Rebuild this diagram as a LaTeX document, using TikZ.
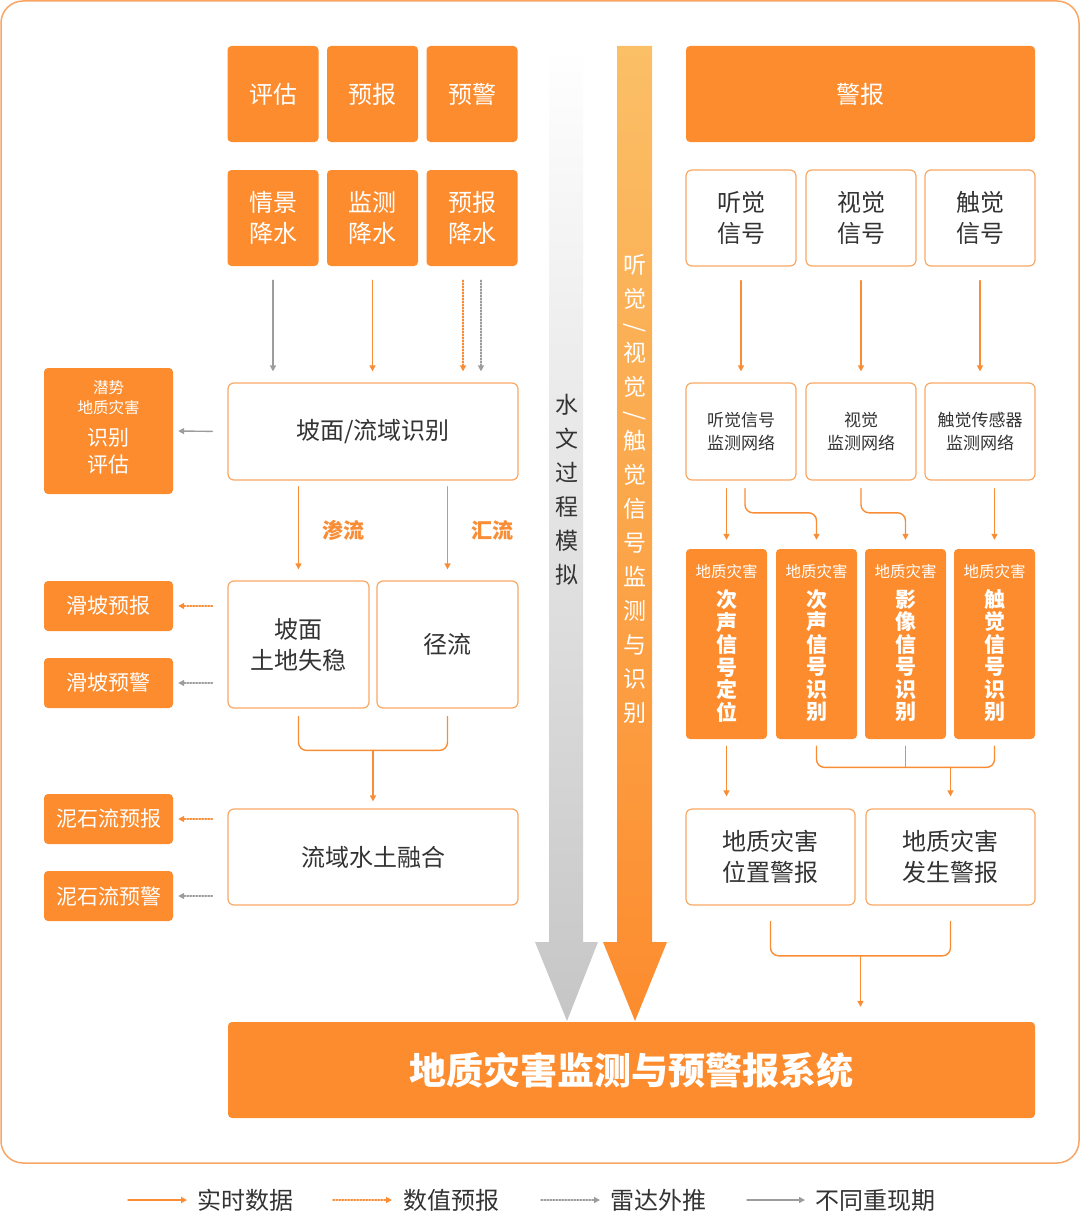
\documentclass[tikz,border=0pt]{standalone}
\usepackage{fontspec}
\setmainfont{Noto Sans CJK SC}
\usetikzlibrary{arrows.meta}
\definecolor{orfill}{HTML}{FC8C2E}
\definecolor{ortop}{HTML}{FBBF66}
\definecolor{orline}{HTML}{F9A864}
\definecolor{frameor}{HTML}{F8A565}
\definecolor{arr}{HTML}{F98D36}
\definecolor{gry}{HTML}{9C9C9C}
\definecolor{txt}{HTML}{333333}
\newcommand\fsz[2]{\fontsize{#1}{#2}\selectfont}
\newcommand\vslash{\rotatebox[origin=c]{-90}{/}}
\tikzset{
	obox/.style={fill=orfill,rounded corners=4,inner sep=0,text=white,align=center},
	wbox/.style={draw=orline,line width=1.2,fill=white,rounded corners=6,inner sep=0,text=txt,align=center},
	topbox/.style={obox,minimum width=91,minimum height=96,font=\fsz{24}{31}},
	sidebox/.style={obox,minimum width=129,minimum height=50,font=\fsz{21}{25}},
	vbox/.style={obox,minimum width=81,minimum height=190},
	rtl/.style={draw=arr,line width=1.4},
	rtline/.style={rtl,-{Triangle[length=6pt,width=6pt]}},
	rpline/.style={draw=gry,line width=1.4,-{Triangle[length=6pt,width=6pt]}},
	fcline/.style={draw=arr,line width=1.4,dash pattern=on 1.4pt off 1.6pt,-{Triangle[length=6pt,width=6pt]}},
	rdline/.style={draw=gry,line width=1.4,dash pattern=on 1.4pt off 1.6pt,-{Triangle[length=6pt,width=6pt]}},
}
\begin{document}
\begin{tikzpicture}[x=1pt,y=-1pt,line join=round,line cap=round]
\useasboundingbox (0,0) rectangle (1080,1212);
\draw[frameor,line width=1.5,rounded corners=22] (1,1) rectangle (1079,1163);

% wide arrows in the middle
\shade[top color=white,bottom color=gray!45] (549,46) -- (583,46) -- (583,942) -- (598,942)
	-- (567,1021) -- (535,942) -- (549,942) -- cycle;
\shade[top color=ortop,bottom color=orfill] (617,46) -- (652,46) -- (652,942)
	-- (667,942) -- (635,1021) -- (603,942) -- (617,942) -- cycle;
\node[align=center,text=txt,font=\fsz{23}{34}] (hydro) at (567,490) {水\\文\\过\\程\\模\\拟};
\node[align=center,text=white,font=\fsz{23}{34}] (sense) at (635,489)
	{听\\觉\\[-7pt]\vslash\\[-7pt]视\\觉\\[-7pt]\vslash\\[-7pt]触\\觉\\信\\号\\监\\测\\与\\识\\别};

% left part
\node[topbox] (pg) at (273,94) {评估};
\node[topbox] (yb) at (372.5,94) {预报};
\node[topbox] (yj) at (472,94) {预警};
\node[topbox] (qjjs) at (273,218) {情景\\降水};
\node[topbox] (jcjs) at (372.5,218) {监测\\降水};
\node[topbox] (ybjs) at (472,218) {预报\\降水};
\node[wbox,minimum width=290,minimum height=97,font=\fsz{24}{31}] (pmly) at (373,431.5) {坡面/流域识别};
\node[obox,minimum width=129,minimum height=126] (qsdz) at (108.5,431) {};
\node[text=white,align=center,font=\fsz{15.5}{20}] (qsdzt) at ([yshift=33]qsdz.center) {潜势\\地质灾害};
\node[text=white,align=center,font=\fsz{21}{27}] (qsdzb) at ([yshift=-20]qsdz.center) {识别\\评估};
\node[wbox,minimum width=141,minimum height=127,font=\fsz{24}{31}] (tdss) at (298.5,644.5) {坡面\\土地失稳};
\node[wbox,minimum width=141,minimum height=127,font=\fsz{24}{31}] (jl) at (447.5,644.5) {径流};
\node[sidebox] (hbyb) at (108.5,606) {滑坡预报};
\node[sidebox] (hbyj) at (108.5,683) {滑坡预警};
\node[wbox,minimum width=290,minimum height=96,font=\fsz{24}{31}] (lyrh) at (373,857) {流域水土融合};
\node[sidebox] (nsyb) at (108.5,819) {泥石流预报};
\node[sidebox] (nsyj) at (108.5,896) {泥石流预警};

\draw[rpline,shorten <=14,shorten >=11] (qjjs.south) -- (qjjs.south |- pmly.north);
\draw[rtline,shorten <=14,shorten >=11] (jcjs.south) -- (jcjs.south |- pmly.north);
\draw[fcline,shorten <=14,shorten >=11] ([xshift=-9]ybjs.south) -- ([xshift=-9]ybjs.south |- pmly.north);
\draw[rdline,shorten <=14,shorten >=11] ([xshift=9]ybjs.south) -- ([xshift=9]ybjs.south |- pmly.north);
\draw[rpline,shorten <=15,shorten >=5] (pmly.west) -- (qsdz.east);
\draw[rtline,shorten <=6,shorten >=11] (tdss.north |- pmly.south) -- (tdss.north)
	node[midway,right=20pt,text=arr,font=\fsz{21}{25}\bfseries] {渗流};
\draw[rtline,shorten <=6,shorten >=11] (jl.north |- pmly.south) -- (jl.north)
	node[midway,right=20pt,text=arr,font=\fsz{21}{25}\bfseries] {汇流};
\draw[fcline,shorten <=15,shorten >=5] (tdss.west |- hbyb) -- (hbyb.east);
\draw[rdline,shorten <=15,shorten >=5] (tdss.west |- hbyj) -- (hbyj.east);
\path (lyrh.north) ++(0,-58) coordinate (mj);
\draw[rtl,rounded corners=8] ([yshift=-8]tdss.south) |- (mj) -| ([yshift=-8]jl.south);
\draw[rtline,shorten >=7] (mj) -- (lyrh.north);
\draw[fcline,shorten <=15,shorten >=5] (lyrh.west |- nsyb) -- (nsyb.east);
\draw[rdline,shorten <=15,shorten >=5] (lyrh.west |- nsyj) -- (nsyj.east);

% right part
\node[obox,minimum width=349,minimum height=96,font=\fsz{24}{31}] (jb) at (860.5,94) {警报};
\node[wbox,minimum width=110,minimum height=96,font=\fsz{24}{31}] (tjxh) at (741,218) {听觉\\信号};
\node[wbox,minimum width=110,minimum height=96,font=\fsz{24}{31}] (sjxh) at (861,218) {视觉\\信号};
\node[wbox,minimum width=110,minimum height=96,font=\fsz{24}{31}] (cjxh) at (980,218) {触觉\\信号};
\node[wbox,minimum width=110,minimum height=97,font=\fsz{17}{23}] (tjwl) at (741,431.5) {听觉信号\\监测网络};
\node[wbox,minimum width=110,minimum height=97,font=\fsz{17}{23}] (sjwl) at (861,431.5) {视觉\\监测网络};
\node[wbox,minimum width=110,minimum height=97,font=\fsz{17}{23}] (cjwl) at (980,431.5) {触觉传感器\\监测网络};
\node[vbox] (csdw) at (726.5,644) {};
\node[vbox] (cssb) at (816.5,644) {};
\node[vbox] (yxsb) at (905.5,644) {};
\node[vbox] (cjsb) at (994.5,644) {};
\node[text=white,font=\fsz{15.5}{18}] (csdwt) at ([yshift=-23]csdw.north) {地质灾害};
\node[text=white,font=\fsz{15.5}{18}] (cssbt) at ([yshift=-23]cssb.north) {地质灾害};
\node[text=white,font=\fsz{15.5}{18}] (yxsbt) at ([yshift=-23]yxsb.north) {地质灾害};
\node[text=white,font=\fsz{15.5}{18}] (cjsbt) at ([yshift=-23]cjsb.north) {地质灾害};
\node[text=white,align=center,font=\fsz{21}{22.5}\bfseries] (csdwb) at ([yshift=-107]csdw.north) {次\\声\\信\\号\\定\\位};
\node[text=white,align=center,font=\fsz{21}{22.5}\bfseries] (cssbb) at ([yshift=-107]cssb.north) {次\\声\\信\\号\\识\\别};
\node[text=white,align=center,font=\fsz{21}{22.5}\bfseries] (yxsbb) at ([yshift=-107]yxsb.north) {影\\像\\信\\号\\识\\别};
\node[text=white,align=center,font=\fsz{21}{22.5}\bfseries] (cjsbb) at ([yshift=-107]cjsb.north) {触\\觉\\信\\号\\识\\别};
\node[wbox,minimum width=169,minimum height=96,font=\fsz{24}{31}] (wzjb) at (770.5,857) {地质灾害\\位置警报};
\node[wbox,minimum width=169,minimum height=96,font=\fsz{24}{31}] (fsjb) at (950.5,857) {地质灾害\\发生警报};

\draw[rtline,shorten <=14,shorten >=11] (tjxh.south) -- (tjwl.north);
\draw[rtline,shorten <=14,shorten >=11] (sjxh.south) -- (sjwl.north);
\draw[rtline,shorten <=14,shorten >=11] (cjxh.south) -- (cjwl.north);
\draw[rtline,shorten <=8,shorten >=9] (csdw.north |- tjwl.south) -- (csdw.north);
\draw[rtline,rounded corners=8,shorten >=9] ([xshift=4,yshift=-8]tjwl.south) |- ([yshift=36]cssb.north) -- (cssb.north);
\draw[rtline,rounded corners=8,shorten >=9] ([yshift=-8]sjwl.south) |- ([yshift=36]yxsb.north) -- (yxsb.north);
\draw[rtline,shorten <=8,shorten >=9] (cjsb.north |- cjwl.south) -- (cjsb.north);
\draw[rtline,shorten <=7,shorten >=12] (csdw.south) -- (wzjb.north -| csdw.south);
\path (fsjb.north) ++(0,-41) coordinate (mk);
\draw[rtl,rounded corners=8] ([yshift=-7]cssb.south) |- (mk) -| ([yshift=-7]cjsb.south);
\draw[rtl] ([yshift=-7]yxsb.south) -- (yxsb.south |- mk);
\draw[rtline,shorten >=12] (mk) -- (fsjb.north);

% system
\node[obox,minimum width=807,minimum height=96,font=\fsz{37}{40}\bfseries] (xt) at (631.5,1070) {地质灾害监测与预警报系统};
\path (xt.north -| jb.south) ++(0,-66) coordinate (ml);
\draw[rtl,rounded corners=8] ([yshift=-16]wzjb.south) |- (ml) -| ([yshift=-16]fsjb.south);
\draw[rtline,shorten >=15] (ml) -- (ml |- xt.north);

% legend
\node[anchor=west,inner sep=0,text=txt,font=\fsz{24}{28}] (lg1) at (197,1200) {实时数据};
\node[anchor=west,inner sep=0,text=txt,font=\fsz{24}{28}] (lg2) at (403,1200) {数值预报};
\node[anchor=west,inner sep=0,text=txt,font=\fsz{24}{28}] (lg3) at (610,1200) {雷达外推};
\node[anchor=west,inner sep=0,text=txt,font=\fsz{24}{28}] (lg4) at (815,1200) {不同重现期};
\draw[rtline] ([xshift=-69]lg1.west) -- ([xshift=-10]lg1.west);
\draw[fcline] ([xshift=-70]lg2.west) -- ([xshift=-11]lg2.west);
\draw[rdline] ([xshift=-69]lg3.west) -- ([xshift=-10]lg3.west);
\draw[rpline] ([xshift=-68]lg4.west) -- ([xshift=-10]lg4.west);
\end{tikzpicture}
\end{document}
